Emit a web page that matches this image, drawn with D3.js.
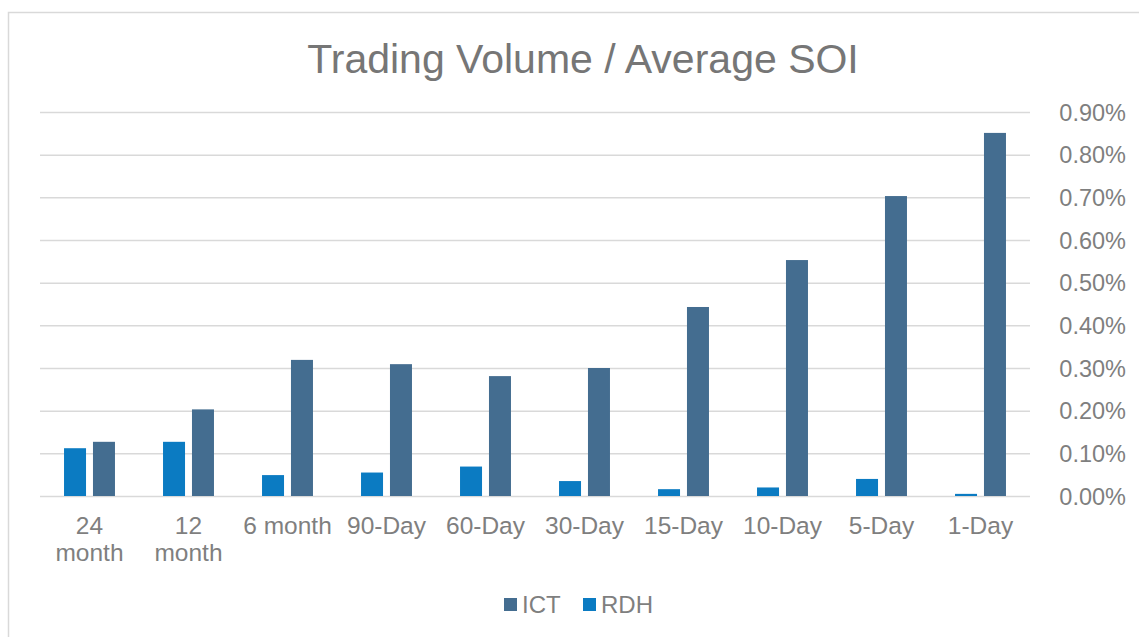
<!DOCTYPE html>
<html>
<head>
<meta charset="utf-8">
<script src="https://cdn.jsdelivr.net/npm/d3@7"></script>
<style>
  body { margin: 0; background: #fff; }
  text { font-family: "Liberation Sans", Arial, sans-serif; }
</style>
</head>
<body>
<div id="chart-area"></div>
<script>
// *********************
// Data
// *********************

// Categories (x axis), first line and second line of each label
const categories = ["24 month", "12 month", "6 month", "90-Day", "60-Day", "30-Day", "15-Day", "10-Day", "5-Day", "1-Day"];
const labelLines = [["24", "month"], ["12", "month"], ["6 month"], ["90-Day"], ["60-Day"], ["30-Day"], ["15-Day"], ["10-Day"], ["5-Day"], ["1-Day"]];

// Series values (percent)
const ictValues = [0.127, 0.203, 0.319, 0.309, 0.281, 0.300, 0.443, 0.553, 0.703, 0.851];
const rdhValues = [0.112, 0.127, 0.049, 0.055, 0.069, 0.035, 0.016, 0.020, 0.040, 0.005];

const seriesNames = ["ICT", "RDH"];
const barOrder = ["RDH", "ICT"];

// Y ticks
const yTicks = [0, 0.1, 0.2, 0.3, 0.4, 0.5, 0.6, 0.7, 0.8, 0.9];

// *********************
// Basic setup SVG
// *********************

const width = 1139;
const height = 637;

const plot = {left: 40, right: 1030, top: 112, bottom: 496};

const color = d3.scaleOrdinal()
	.domain(seriesNames)
	.range(["#446d90", "#0b7bc2"]);

const svg = d3.select("#chart-area")
	.append("svg")
	.attr("width", width)
	.attr("height", height);

// Chart frame
svg.append("rect")
	.attr("x", 8.5)
	.attr("y", 12.5)
	.attr("width", width + 10)
	.attr("height", height + 10)
	.attr("fill", "#fff")
	.attr("stroke", "#d9d9d9")
	.attr("stroke-width", 1.5);

// *********************
// Scales
// *********************

const x0 = d3.scaleBand()
	.domain(categories)
	.range([plot.left, plot.right])
	.padding(0);

const x1 = d3.scaleBand()
	.domain(barOrder)
	.range([0, x0.bandwidth()])
	.paddingInner(0.24)
	.paddingOuter(0.83);

const y = d3.scaleLinear()
	.domain([0, 0.9])
	.range([plot.bottom, plot.top]);

// *********************
// Gridlines and axes
// *********************

const yAxis = d3.axisRight(y)
	.tickValues(yTicks)
	.tickSize(plot.right - plot.left)
	.tickFormat(d => d.toFixed(2) + "%");

const yAxisGroup = svg.append("g")
	.attr("class", "y axis")
	.attr("transform", "translate(" + plot.left + ",0)")
	.call(yAxis);

yAxisGroup.select(".domain").remove();
yAxisGroup.selectAll("line")
	.attr("stroke", "#d9d9d9")
	.attr("stroke-width", 1.5);
yAxisGroup.selectAll("text")
	.attr("x", 1126 - plot.left)
	.attr("dy", "0.35em")
	.attr("text-anchor", "end")
	.attr("font-size", "23.5px")
	.attr("fill", "#7f7f7f");

// X axis labels
const xLabels = svg.append("g")
	.attr("class", "x axis");

categories.forEach((c, i) => {
	const t = xLabels.append("text")
		.attr("x", x0(c) + x0.bandwidth() / 2)
		.attr("y", 534)
		.attr("text-anchor", "middle")
		.attr("font-size", "24.5px")
		.attr("fill", "#7f7f7f");
	labelLines[i].forEach((line, j) => {
		t.append("tspan")
			.attr("x", x0(c) + x0.bandwidth() / 2)
			.attr("dy", j === 0 ? 0 : 27)
			.text(line);
	});
});

// *********************
// Bars
// *********************

const rows = categories.map((c, i) => ({category: c, ICT: ictValues[i], RDH: rdhValues[i]}));

const groups = svg.append("g")
	.selectAll("g")
	.data(rows)
	.enter()
	.append("g")
	.attr("transform", d => "translate(" + x0(d.category) + ",0)");

groups.selectAll("rect")
	.data(d => barOrder.map(k => ({key: k, value: d[k]})))
	.enter()
	.append("rect")
	.attr("x", d => x1(d.key))
	.attr("y", d => y(d.value))
	.attr("width", x1.bandwidth())
	.attr("height", d => y(0) - y(d.value))
	.attr("fill", d => color(d.key));

// *********************
// Title
// *********************

svg.append("text")
	.attr("x", 583)
	.attr("y", 73)
	.attr("text-anchor", "middle")
	.attr("font-size", "41px")
	.attr("fill", "#767676")
	.text("Trading Volume / Average SOI");

// *********************
// Legend
// *********************

const legendItems = [{name: "ICT", x: 504}, {name: "RDH", x: 583}];

const legend = svg.append("g");

legendItems.forEach(item => {
	legend.append("rect")
		.attr("x", item.x)
		.attr("y", 598)
		.attr("width", 13)
		.attr("height", 13)
		.attr("fill", color(item.name));
	legend.append("text")
		.attr("x", item.x + 18)
		.attr("y", 613)
		.attr("font-size", "24px")
		.attr("fill", "#7f7f7f")
		.text(item.name);
});
</script>
</body>
</html>
